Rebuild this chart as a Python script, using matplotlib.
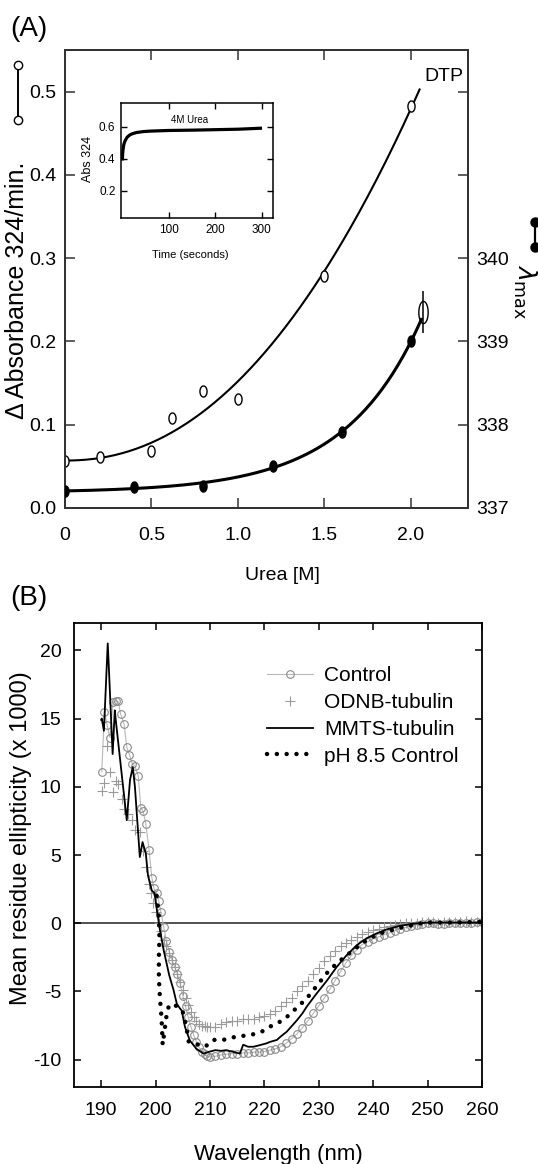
import numpy as np
import matplotlib
matplotlib.use('Agg')
import matplotlib.pyplot as plt
from matplotlib.path import Path
from matplotlib.lines import Line2D

plt.rcParams['font.family'] = ['Liberation Sans', 'DejaVu Sans']
plt.rcParams['axes.unicode_minus'] = False

# ---- panel A data: urea titration ----
urea_open = np.array([0.0, 0.2, 0.5, 0.62, 0.8, 1.0, 1.5, 2.0])
dabs_open = np.array([0.057, 0.061, 0.068, 0.108, 0.141, 0.131, 0.279, 0.483])

urea_fill = np.array([0.0, 0.4, 0.8, 1.2, 1.6, 2.0])
lmax_fill = np.array([337.21, 337.25, 337.26, 337.51, 337.91, 339.0])

err_x = [2.07]
err_y = [339.35]
err_size = [0.25]

# inset: 4M urea kinetics
time_s = [0, 1, 3, 6, 10, 15, 20, 30, 45, 60, 100, 150, 200, 250, 297]
abs324 = [0.40, 0.45, 0.49, 0.515, 0.535, 0.548, 0.556, 0.565, 0.571, 0.574,
          0.578, 0.580, 0.583, 0.586, 0.592]

# ---- panel B data: CD spectra ----
ctrl_wl = [190.1, 190.6, 191.1, 191.6, 192.2, 192.7, 193.1, 193.6, 194.2, 194.7,
           195.2, 195.7, 196.2, 196.8, 197.3, 197.7, 198.2, 198.8, 199.3, 199.7,
           200.2, 200.6, 201.0, 201.5, 202.0, 202.5, 203.0, 203.5, 204.0, 204.5,
           205.0, 205.5, 206.0, 206.5, 207.0, 207.5, 208.0, 208.5, 209.0, 209.5,
           210, 211, 212, 213, 214, 215, 216, 217, 218, 219,
           220, 221, 222, 223, 224, 225, 226, 227, 228, 229,
           230, 231, 232, 233, 234, 235, 236, 237, 238, 239,
           240, 241, 242, 243, 244, 245, 246, 247, 248, 249,
           250, 251, 252, 253, 254, 255, 256, 257, 258, 259, 260]
ctrl_val = [11.1, 15.5, 14.5, 13.6, 16.2, 16.3, 16.25, 15.3, 14.6, 12.9,
            12.35, 11.7, 11.5, 10.8, 8.45, 8.2, 7.3, 5.35, 3.35, 2.55,
            2.2, 1.6, 0.8, -0.3, -1.3, -2.1, -2.7, -3.2, -3.7, -4.4,
            -5.3, -6.1, -6.9, -7.6, -8.2, -8.7, -9.1, -9.4, -9.6, -9.75,
            -9.8, -9.75, -9.65, -9.6, -9.55, -9.55, -9.5, -9.5, -9.45, -9.45,
            -9.4, -9.3, -9.2, -9.05, -8.8, -8.45, -8.1, -7.65, -7.15, -6.6,
            -6.05, -5.5, -4.85, -4.2, -3.55, -2.9, -2.35, -1.95, -1.55, -1.35,
            -1.15, -1.0, -0.85, -0.7, -0.55, -0.4, -0.3, -0.2, -0.12, -0.05,
            0.0, 0.0, -0.05, -0.05, 0.0, 0.0, 0.05, 0.05, 0.05, 0.1, 0.1]

odnb_wl = [190.1, 190.5, 191.0, 191.6, 192.2, 192.7, 193.1, 193.8, 194.2, 195.0,
           195.6, 196.2, 197.1, 197.6, 198.2, 198.7, 199.2, 199.6, 200.1, 200.6,
           201.0, 201.5, 202.0, 202.5, 203.0, 203.5, 204.0, 204.5, 205.0, 205.5,
           206.0, 206.5, 207.0, 207.5, 208.0, 208.5, 209.0, 209.5,
           210, 211, 212, 213, 214, 215, 216, 217, 218, 219,
           220, 221, 222, 223, 224, 225, 226, 227, 228, 229,
           230, 231, 232, 233, 234, 235, 236, 237, 238, 239,
           240, 241, 242, 243, 244, 245, 246, 247, 248, 249,
           250, 251, 252, 253, 254, 255, 256, 257, 258, 259, 260]
odnb_val = [9.7, 10.3, 13.0, 11.1, 9.6, 10.4, 10.2, 9.1, 8.4, 8.0,
            7.6, 6.8, 6.7, 5.3, 4.1, 2.9, 2.2, 1.5, 0.8, 0.0,
            -0.6, -1.2, -1.7, -2.2, -2.7, -3.2, -3.7, -4.3, -4.9, -5.5,
            -6.0, -6.5, -6.9, -7.2, -7.4, -7.5, -7.55, -7.6,
            -7.6, -7.6, -7.4, -7.25, -7.15, -7.15, -7.05, -7.0, -7.0, -6.9,
            -6.8, -6.65, -6.4, -6.1, -5.8, -5.45, -5.0, -4.6, -4.2, -3.7,
            -3.25, -2.8, -2.4, -2.0, -1.7, -1.45, -1.2, -1.0, -0.8, -0.65,
            -0.5, -0.4, -0.3, -0.2, -0.1, -0.05, 0.0, 0.05, 0.05, 0.1,
            0.1, 0.1, 0.05, 0.1, 0.1, 0.1, 0.1, 0.15, 0.1, 0.1, 0.1]

mmts_wl = [190.0, 190.1, 190.5, 191.2, 191.4, 192.1, 192.5, 192.7, 194.7, 195.3,
           195.8, 196.2, 197.1, 197.6, 198.2, 198.6, 199.3, 199.8, 200.3, 200.8,
           201.5, 202.5, 203.3, 203.9, 204.4, 204.8, 205.4, 206.3, 207.5, 208.8,
           210, 211, 212, 213, 214, 215, 215.5, 216.1, 217, 218,
           219, 220.4, 221, 222.3, 223, 224.1, 225, 226, 227, 227.8,
           229.6, 231.5, 233.3, 235.1, 237, 238.8, 240.6, 242.5, 244.8, 247.1,
           250, 255, 260]
mmts_val = [14.9, 15.0, 14.1, 20.5, 18.8, 12.4, 15.6, 14.8, 7.55, 10.5,
            11.45, 10.0, 4.85, 5.95, 5.1, 3.5, 2.4, 2.2, 0.8, -0.5,
            -2.0, -3.8, -4.9, -5.9, -6.2, -6.4, -7.6, -8.6, -9.2, -9.55,
            -9.4, -9.3, -9.35, -9.3, -9.4, -9.5, -9.55, -8.9, -9.05, -9.05,
            -8.95, -8.8, -8.7, -8.55, -8.3, -7.95, -7.55, -7.1, -6.6, -6.1,
            -5.15, -4.2, -3.2, -2.35, -1.6, -1.1, -0.75, -0.45, -0.2, -0.05,
            0.05, 0.05, 0.05]

ph_wl = [200.2, 200.6, 200.7, 200.6, 200.6, 200.8, 201.1, 201.3, 201.6, 202.0,
         202.4, 203.0, 204.0, 205.0, 205.6, 206.1, 207.9, 209.1, 210.6, 212.4,
         214.9, 217.4, 219.5, 221.6, 223.5, 226.2, 227.8, 230.2, 231.7, 233.3,
         234.8, 236.3, 237.8, 239.4, 241.2, 243.0, 244.8, 246.6, 248.0, 250.0,
         255.0, 260.0]
ph_val = [2.0, 0.5, -1.0, -2.5, -4.0, -5.5, -7.0, -8.9, -8.0, -6.8,
          -6.1, -5.9, -6.1, -6.5, -7.5, -8.7, -8.9, -9.05, -8.55, -8.55,
          -8.3, -8.2, -7.95, -7.45, -7.1, -6.1, -5.5, -4.3, -3.55, -2.95,
          -2.45, -2.0, -1.5, -1.1, -0.75, -0.55, -0.35, -0.2, -0.05, 0.05,
          0.05, 0.1]

W, H = 538, 1164


def fx(px):
    return px / W


def fy(py):
    return 1 - py / H


def ellipse_marker(aspect):
    t = np.linspace(0, 2 * np.pi, 41)
    return Path(np.column_stack([aspect * np.sin(t), np.cos(t)]))


def fit_power(x, y):
    # y = y0 + b * x**n, y0 taken from the first point
    y0 = y[0]
    best = None
    for n in np.linspace(1.0, 4.0, 301):
        xn = x ** n
        b = np.sum(xn * (y - y0)) / np.sum(xn * xn)
        err = np.sum((y0 + b * xn - y) ** 2)
        if best is None or err < best[0]:
            best = (err, n, b)
    return y0, best[2], best[1]


def fit_exp(x, y):
    best = None
    for c in np.linspace(0.5, 5.0, 451):
        A = np.column_stack([np.ones_like(x), np.exp(c * x)])
        coef = np.linalg.lstsq(A, y, rcond=None)[0]
        err = np.sum((A @ coef - y) ** 2)
        if best is None or err < best[0]:
            best = (err, c, coef)
    return best[1], best[2]


fig = plt.figure(figsize=(5.38, 11.64), dpi=100)
ell = ellipse_marker(0.64)
dark = '#333333'

# ================= panel A =================
axA = fig.add_axes([fx(65), fy(508), (468 - 65) / W, (508 - 50) / H])
axA.set_xlim(0, 2.33)
axA.set_ylim(0, 0.55)

y0, b0, n0 = fit_power(urea_open, dabs_open)
xs = np.linspace(0, 2.05, 200)
axA.plot(xs, y0 + b0 * xs ** n0, color='black', lw=1.5, zorder=2)
axA.plot(urea_open, dabs_open, ls='none', marker=ell, ms=8, mfc='white',
         mec='black', mew=1.0, zorder=3)
axA.text(2.08, 0.518, 'DTP', fontsize=14, ha='left', va='center')

axA.set_xticks([0, 0.5, 1.0, 1.5, 2.0])
axA.set_xticklabels(['0', '0.5', '1.0', '1.5', '2.0'])
axA.set_yticks([0, 0.1, 0.2, 0.3, 0.4, 0.5])
axA.set_yticklabels(['0.0', '0.1', '0.2', '0.3', '0.4', '0.5'])
axA.tick_params(direction='in', length=7, width=1.1, top=True, right=False,
                labelsize=14, pad=6, color=dark)
axA.tick_params(axis='x', pad=14)
for sp in axA.spines.values():
    sp.set_color(dark)
    sp.set_linewidth(1.4)

axR = axA.twinx()
axR.set_ylim(337, 342.5)
c1, (a1, b1) = fit_exp(urea_fill, lmax_fill)
xs2 = np.linspace(0, 2.06, 200)
axR.plot(xs2, a1 + b1 * np.exp(c1 * xs2), color='black', lw=2.2, zorder=2)
axR.plot(urea_fill, lmax_fill, ls='none', marker=ell, ms=8, mfc='black',
         mec='black', zorder=3)
axR.errorbar(err_x, err_y, yerr=err_size, fmt='none', ecolor='black',
             elinewidth=1.1, capsize=0)
axR.plot(err_x, err_y, ls='none', marker=ellipse_marker(0.42), ms=16,
         mfc='none', mec='black', mew=1.0)
axR.set_yticks([337, 338, 339, 340, 341, 342])
axR.set_yticklabels(['337', '338', '339', '340', '', ''])
axR.tick_params(direction='in', length=7, width=1.1, labelsize=14, pad=6,
                color=dark)
for sp in axR.spines.values():
    sp.set_color(dark)
    sp.set_linewidth(1.4)

fig.text(fx(282), fy(575), 'Urea [M]', fontsize=14, ha='center', va='center')
fig.text(fx(17), fy(290), '\u0394 Absorbance 324/min.', rotation=90,
         fontsize=18, ha='center', va='center')
fig.add_artist(Line2D([fx(18), fx(18)], [fy(65), fy(120)],
                      transform=fig.transFigure, color='black', lw=1.4,
                      marker='o', ms=6, mfc='white', mec='black', mew=1.0))
fig.add_artist(Line2D([fx(535), fx(535)], [fy(222), fy(247)],
                      transform=fig.transFigure, color='black', lw=1.6,
                      marker='o', ms=6.5, mfc='black', mec='black'))
fig.text(fx(525), fy(292), r'$\lambda_{\mathrm{max}}$', rotation=-90,
         fontsize=18, ha='center', va='center')
fig.text(fx(10), fy(29), '(A)', fontsize=20, ha='left', va='center')

# inset
axI = fig.add_axes([fx(121), fy(218), (273 - 121) / W, (218 - 103) / H])
axI.plot(time_s, abs324, color='black', lw=2.3)
axI.set_xlim(-3, 324)
axI.set_ylim(0.03, 0.75)
axI.set_xticks([100, 200, 300])
axI.set_yticks([0.2, 0.4, 0.6])
axI.set_yticklabels(['0.2', '0.4', '0.6'])
axI.tick_params(direction='in', length=4.5, width=1, top=True, right=True,
                labelsize=8.5, pad=4)
for sp in axI.spines.values():
    sp.set_linewidth(1.1)
axI.text(0.45, 0.85, '4M Urea', transform=axI.transAxes, fontsize=7,
         ha='center', va='center')
fig.text(fx(88), fy(159), 'Abs 324', rotation=90, fontsize=9,
         ha='center', va='center')
fig.text(fx(190), fy(255), 'Time (seconds)', fontsize=8,
         ha='center', va='center')

# ================= panel B =================
axB = fig.add_axes([fx(74), fy(1087), (482 - 74) / W, (1087 - 623) / H])
axB.set_xlim(185, 260)
axB.set_ylim(-12, 22)
axB.axhline(0, color='#222222', lw=1.1, zorder=1)
axB.plot(ctrl_wl, ctrl_val, color='#b8b8b8', lw=0.8, marker='o', ms=5.5,
         mfc='none', mec='#8a8a8a', mew=0.8, label='Control', zorder=2)
axB.plot(odnb_wl, odnb_val, ls='none', marker='+', ms=6.5, color='#9a9a9a',
         mew=0.8, label='ODNB-tubulin', zorder=2)
axB.plot(mmts_wl, mmts_val, color='black', lw=1.3, label='MMTS-tubulin',
         zorder=3)
axB.plot(ph_wl, ph_val, color='black', lw=3.2, ls=(0, (0.01, 2.2)),
         dash_capstyle='round', label='pH 8.5 Control', zorder=4)

axB.set_xticks(np.arange(190, 261, 10))
axB.set_yticks([-10, -5, 0, 5, 10, 15, 20])
axB.tick_params(direction='in', length=5, width=1.1, top=True, right=True,
                labelsize=14, pad=9)
axB.tick_params(axis='x', pad=11)
for sp in axB.spines.values():
    sp.set_linewidth(1.3)
axB.set_xlabel('Wavelength (nm)', fontsize=16, labelpad=18)
fig.text(fx(21), fy(838), 'Mean residue ellipticity (x 1000)', rotation=90,
         fontsize=17, ha='center', va='center')
axB.legend(loc='upper left', bbox_to_anchor=(fx(267), fy(666)),
           bbox_transform=fig.transFigure, frameon=False, fontsize=15,
           handlelength=2.2, handletextpad=0.55, labelspacing=0.38,
           borderpad=0, borderaxespad=0)
fig.text(fx(10), fy(598), '(B)', fontsize=20, ha='left', va='center')

fig.savefig('out.png', dpi=100)
